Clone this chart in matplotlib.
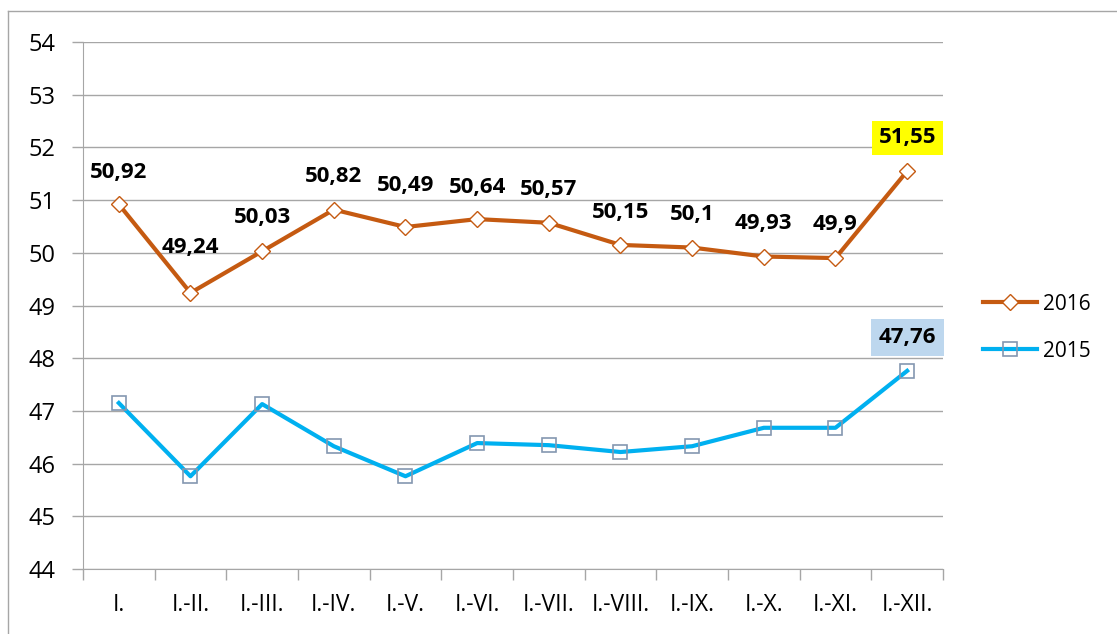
import numpy as np
import matplotlib
matplotlib.use('Agg')
from matplotlib import pyplot as plt
from matplotlib.lines import Line2D

plt.rcParams['font.family'] = ['Open Sans', 'DejaVu Sans']

# categories and values
months = ['I.', 'I.-II.', 'I.-III.', 'I.-IV.', 'I.-V.', 'I.-VI.', 'I.-VII.',
          'I.-VIII.', 'I.-IX.', 'I.-X.', 'I.-XI.', 'I.-XII.']
vals_2016 = [50.92, 49.24, 50.03, 50.82, 50.49, 50.64, 50.57,
             50.15, 50.10, 49.93, 49.90, 51.55]
vals_2015 = [47.15, 45.76, 47.13, 46.33, 45.76, 46.39, 46.35,
             46.22, 46.33, 46.68, 46.68, 47.76]
labels_2016 = ['50,92', '49,24', '50,03', '50,82', '50,49', '50,64', '50,57',
               '50,15', '50,1', '49,93', '49,9', '51,55']
label_2015_last = '47,76'

# label offsets in points (above the point)
offs = [23, 33, 24, 24, 30, 23, 24, 23, 24, 24, 24, 24]

c16 = '#C55A11'
c15 = '#00B0F0'

fig = plt.figure(figsize=(11.17, 6.34), dpi=100)
ax = fig.add_axes([0.0743, 0.1025, 0.7699, 0.8312])

x = np.arange(len(months))
ax.plot(x, vals_2016, color=c16, lw=3, marker='D', ms=8, mfc='white',
        mec=c16, mew=1, label='2016', zorder=3)
ax.plot(x, vals_2015, color=c15, lw=3, marker='s', ms=10, mfc='none',
        mec='#8497B0', mew=1.2, label='2015', zorder=3)

for i, (v, t) in enumerate(zip(vals_2016, labels_2016)):
    kw = {}
    if i == len(vals_2016) - 1:
        kw['bbox'] = dict(boxstyle='square,pad=0.3', fc='#FFFF00', ec='none')
    ax.annotate(t, (x[i], v), xytext=(0, offs[i]), textcoords='offset points',
                ha='center', va='center', fontsize=16, fontweight='bold', **kw)

ax.annotate(label_2015_last, (x[-1], vals_2015[-1]), xytext=(0, 24),
            textcoords='offset points', ha='center', va='center',
            fontsize=16, fontweight='bold',
            bbox=dict(boxstyle='square,pad=0.35', fc='#BDD7EE', ec='none'))

ax.set_xlim(-0.5, len(months) - 0.5)
ax.set_ylim(44, 54)
ax.set_yticks(range(44, 55))
ax.set_xticks(x)
ax.set_xticklabels(months)
ax.set_xticks(np.arange(-0.5, len(months)), minor=True)
ax.tick_params(axis='x', which='major', length=0, pad=17, labelsize=16.5)
ax.tick_params(axis='x', which='minor', length=8, color='#A6A6A6', width=1)
ax.tick_params(axis='y', length=8, color='#A6A6A6', width=1, labelsize=17, pad=12)
ax.grid(axis='y', color='#A6A6A6', lw=1)
ax.set_axisbelow(True)
for s in ['top', 'right']:
    ax.spines[s].set_visible(False)
for s in ['left', 'bottom']:
    ax.spines[s].set_color('#A6A6A6')

ax.legend(loc='center left', bbox_to_anchor=(1.025, 0.458), frameon=False,
          fontsize=15, handlelength=2.6, handletextpad=0.25, labelspacing=1.25)

# outer chart border (partly visible)
fig.add_artist(Line2D([8 / 1117, 8 / 1117], [0, 1 - 11 / 634],
                      transform=fig.transFigure, color='#A6A6A6', lw=1))
fig.add_artist(Line2D([8 / 1117, 1], [1 - 11 / 634, 1 - 11 / 634],
                      transform=fig.transFigure, color='#A6A6A6', lw=1))

fig.savefig('out.png', dpi=100)
